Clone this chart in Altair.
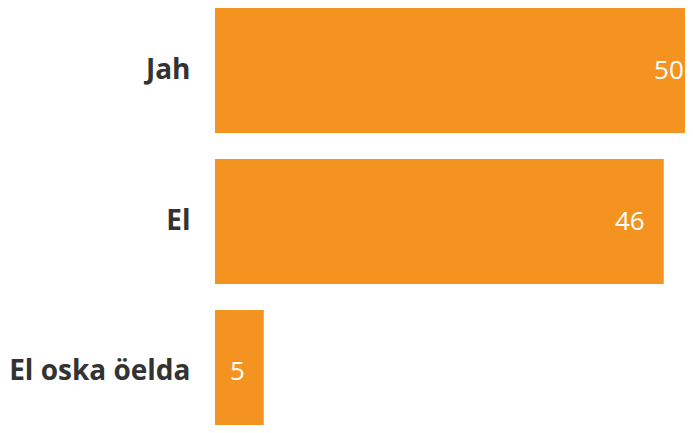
import altair as alt
import pandas as pd

categories = ["Jah", "El", "El oska öelda"]
values = [50, 46, 5]

df = pd.DataFrame({"category": categories, "value": values})

base = alt.Chart(df).encode(
    y=alt.Y("category:N", sort=categories,
            scale=alt.Scale(paddingInner=0.172, paddingOuter=0),
            axis=alt.Axis(title=None, ticks=False, domain=False, labelPadding=25,
                          labelLimit=400,
                          labelFont="Open Sans", labelFontWeight="bold",
                          labelFontSize=28, labelColor="#333333")),
    x=alt.X("value:Q", scale=alt.Scale(domain=[0, 49.0], nice=False, zero=True),
            axis=None),
)

bars = base.mark_bar(color="#F4931F", clip=True)
text = base.mark_text(align="right", baseline="middle", dx=-19, color="white",
                      font="Open Sans", fontSize=26).encode(text="value:Q")

chart = (bars + text).properties(
    width=478, height=427,
    autosize=alt.AutoSizeParams(type="none"),
    padding={"left": 207, "top": 0, "right": -8, "bottom": -10},
).configure_view(stroke=None)

chart.save("out.html", embed_options={"renderer": "svg", "actions": False})
